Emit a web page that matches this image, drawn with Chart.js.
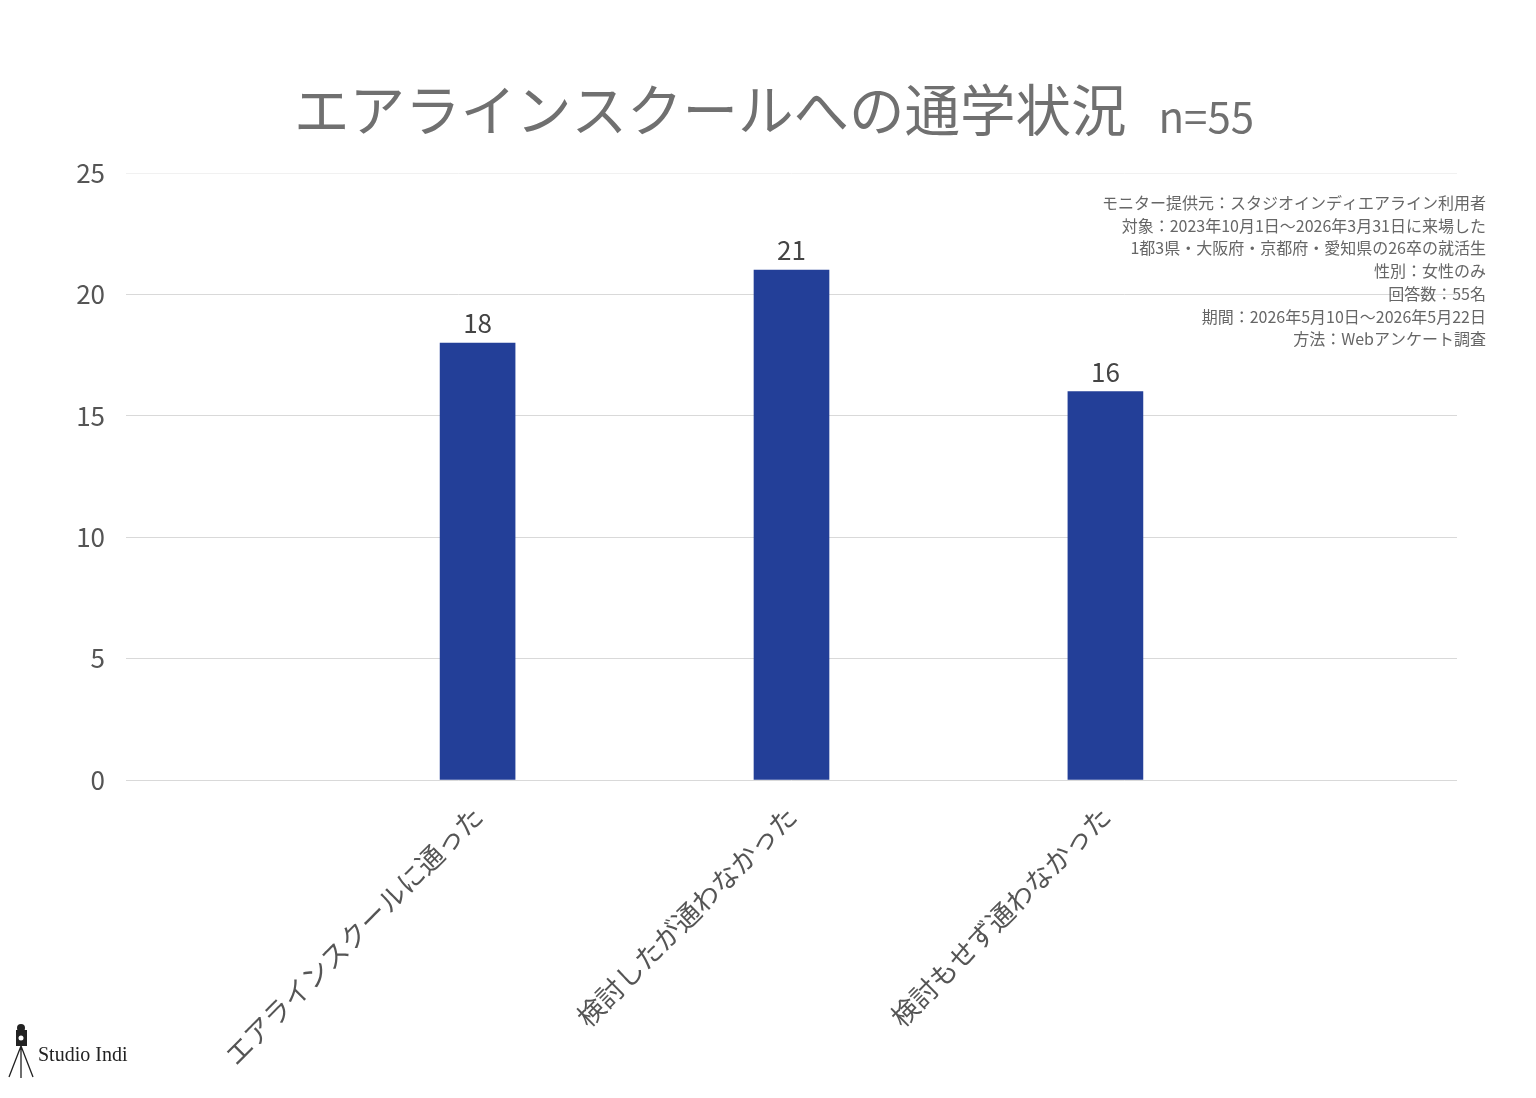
<!DOCTYPE html>
<html lang="ja">
<head>
<meta charset="utf-8">
<title>エアラインスクールへの通学状況</title>
<script src="https://cdn.jsdelivr.net/npm/chart.js@4.4.1/dist/chart.umd.min.js"></script>
<style>
  html, body { margin: 0; padding: 0; background: #fff; }
  #wrap { position: relative; width: 1536px; height: 1098px; }
</style>
</head>
<body>
<div id="wrap"><canvas id="chart" width="1536" height="1098"></canvas></div>
<script>
const categories = ['エアラインスクールに通った', '検討したが通わなかった', '検討もせず通わなかった'];
const counts = [18, 21, 16];
const yTicks = [0, 5, 10, 15, 20, 25];
const titleText = 'エアラインスクールへの通学状況';
const sampleText = 'n=55';
const noteLines = [
  'モニター提供元：スタジオインディエアライン利用者',
  '対象：2023年10月1日〜2026年3月31日に来場した',
  '1都3県・大阪府・京都府・愛知県の26卒の就活生',
  '性別：女性のみ',
  '回答数：55名',
  '期間：2026年5月10日〜2026年5月22日',
  '方法：Webアンケート調査'
];

const FONT = '"Noto Sans CJK JP", "Noto Sans", sans-serif';
const barColor = '#233f98';
const textGray = '#555555';

// title, notes, value labels and logo
const decorations = {
  id: 'decorations',
  afterDraw(chart) {
    const ctx = chart.ctx;
    ctx.save();

    // title + sample size
    ctx.fillStyle = '#707070';
    ctx.font = '55.5px ' + FONT;
    const w1 = ctx.measureText(titleText).width;
    ctx.font = '42px ' + FONT;
    const w2 = ctx.measureText(sampleText).width;
    const gap = 32;
    const x0 = 774 - (w1 + gap + w2) / 2;
    ctx.textAlign = 'left';
    ctx.textBaseline = 'alphabetic';
    ctx.font = '55.5px ' + FONT;
    ctx.fillText(titleText, x0, 131);
    ctx.font = '42px ' + FONT;
    ctx.fillText(sampleText, x0 + w1 + gap, 133);

    // notes top right
    ctx.font = '16px ' + FONT;
    ctx.fillStyle = '#666666';
    ctx.textAlign = 'right';
    ctx.textBaseline = 'middle';
    noteLines.forEach((line, i) => {
      ctx.fillText(line, 1486, 203 + i * 22.7);
    });

    // value labels on bars
    const meta = chart.getDatasetMeta(0);
    ctx.font = '26px ' + FONT;
    ctx.fillStyle = '#444444';
    ctx.textAlign = 'center';
    ctx.textBaseline = 'alphabetic';
    meta.data.forEach((bar, i) => {
      ctx.fillText(String(counts[i]), bar.x, bar.y - 10);
    });

    // logo
    ctx.strokeStyle = '#222';
    ctx.fillStyle = '#222';
    ctx.lineWidth = 1.3;
    ctx.beginPath();
    ctx.moveTo(21, 1046); ctx.lineTo(9, 1077);
    ctx.moveTo(21, 1046); ctx.lineTo(21, 1078);
    ctx.moveTo(21, 1046); ctx.lineTo(33, 1077);
    ctx.stroke();
    ctx.fillRect(16, 1030, 11, 16);
    ctx.beginPath();
    ctx.arc(21, 1028, 4, 0, Math.PI * 2);
    ctx.fill();
    ctx.fillStyle = '#fff';
    ctx.beginPath();
    ctx.arc(21, 1038, 2.5, 0, Math.PI * 2);
    ctx.fill();
    ctx.fillStyle = '#222';
    ctx.font = '20px "Liberation Serif", "DejaVu Serif", serif';
    ctx.textAlign = 'left';
    ctx.textBaseline = 'alphabetic';
    ctx.fillText('Studio Indi', 38, 1061);

    ctx.restore();
  }
};

new Chart(document.getElementById('chart'), {
  type: 'bar',
  data: {
    datasets: [{
      data: counts.map((v, i) => ({ x: i, y: v })),
      backgroundColor: barColor,
      barThickness: 75
    }]
  },
  options: {
    responsive: false,
    devicePixelRatio: 1,
    animation: false,
    layout: { padding: { top: 173, right: 79, bottom: 0, left: 0 } },
    plugins: {
      legend: { display: false },
      tooltip: { enabled: false },
      title: { display: false }
    },
    scales: {
      x: {
        type: 'linear',
        offset: false,
        min: -1.12,
        max: 3.12,
        grid: { display: false, offset: false },
        border: { display: false },
        afterBuildTicks: (scale) => { scale.ticks = categories.map((_, i) => ({ value: i })); },
        afterFit: (scale) => { scale.height = 318; },
        ticks: {
          autoSkip: false,
          minRotation: 45,
          maxRotation: 45,
          padding: 12,
          color: textGray,
          font: { family: FONT, size: 27 },
          callback: (v) => categories[v] ?? ''
        }
      },
      y: {
        min: 0,
        max: 25,
        afterBuildTicks: (scale) => { scale.ticks = yTicks.map(v => ({ value: v })); },
        afterFit: (scale) => { scale.width = 126; },
        border: { display: false },
        grid: {
          drawTicks: false,
          lineWidth: 1,
          color: (c) => (c.tick && c.tick.value === 25 ? '#f1f1f1' : '#d9d9d9')
        },
        ticks: {
          padding: 21,
          color: textGray,
          font: { family: FONT, size: 26 }
        }
      }
    }
  },
  plugins: [decorations]
});
</script>
</body>
</html>
